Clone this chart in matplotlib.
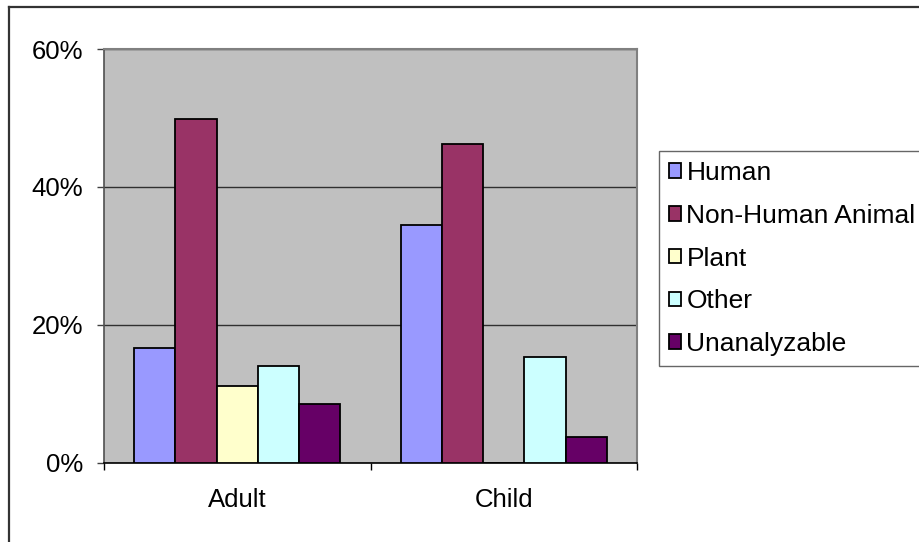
import numpy as np
import matplotlib
matplotlib.use('Agg')
import matplotlib.pyplot as plt
from matplotlib.lines import Line2D
from matplotlib.ticker import PercentFormatter

plt.rcParams['font.family'] = ['Liberation Sans', 'DejaVu Sans']

groups = ['Adult', 'Child']
series = ['Human', 'Non-Human Animal', 'Plant', 'Other', 'Unanalyzable']
human = [16.6, 34.5]
non_human_animal = [49.9, 46.2]
plant = [11.1, 0.0]
other = [14.0, 15.4]
unanalyzable = [8.5, 3.8]
colors = ['#9999FF', '#993366', '#FFFFCC', '#CCFFFF', '#660066']

FS = 18.5
W, H = 919, 542
fig = plt.figure(figsize=(W / 100, H / 100), dpi=100)
fig.patch.set_facecolor('white')

# plot area in pixels: x 104..637, y 49..463
ax = fig.add_axes([104 / W, 1 - 463 / H, 533 / W, 414 / H])
ax.set_facecolor('#C0C0C0')

x = np.arange(len(groups))
w = 0.1546
values = [human, non_human_animal, plant, other, unanalyzable]
for i, (name, vals) in enumerate(zip(series, values)):
    ax.bar(x + (i - 2) * w, vals, width=w, color=colors[i], edgecolor='black',
           linewidth=1.3, label=name, zorder=3)

ax.set_xlim(-0.5, 1.5)
ax.set_ylim(0, 60)
ax.set_yticks([0, 20, 40, 60])
ax.yaxis.set_major_formatter(PercentFormatter(decimals=0))
ax.yaxis.grid(True, color='#303030', linewidth=1.0, zorder=1)

ax.set_xticks([-0.5, 0.5, 1.5])
ax.set_xticklabels([])
ax.set_xticks(x, minor=True)
ax.set_xticklabels(groups, minor=True)
ax.tick_params(axis='x', which='major', length=5, width=1, color='#000000', direction='out')
ax.tick_params(axis='x', which='minor', length=0, pad=18, labelsize=FS)
ax.tick_params(axis='y', length=5, width=1, color='#404040', direction='out', pad=10, labelsize=FS)

for side in ['top', 'right']:
    ax.spines[side].set_color('#808080')
    ax.spines[side].set_linewidth(1.5)
ax.spines['left'].set_color('#505050')
ax.spines['left'].set_linewidth(1.2)
ax.spines['bottom'].set_color('#000000')
ax.spines['bottom'].set_linewidth(1.2)

leg = ax.legend(loc='upper left', bbox_to_anchor=(659 / W, 1 - 151 / H),
                bbox_transform=fig.transFigure, fontsize=19, frameon=True,
                fancybox=False, edgecolor='#404040', handlelength=0.46,
                handleheight=0.46, handletextpad=0.2, labelspacing=0.71,
                borderpad=0.38, borderaxespad=0)
leg.get_frame().set_linewidth(1.0)

# outer chart border (left and top visible)
fig.add_artist(Line2D([8.5 / W, 8.5 / W], [0, 1 - 7 / H], color='#333333', linewidth=1.6,
                      transform=fig.transFigure))
fig.add_artist(Line2D([8.5 / W, 1], [1 - 7 / H, 1 - 7 / H], color='#333333', linewidth=1.6,
                      transform=fig.transFigure))

fig.savefig('out.png', dpi=100)
